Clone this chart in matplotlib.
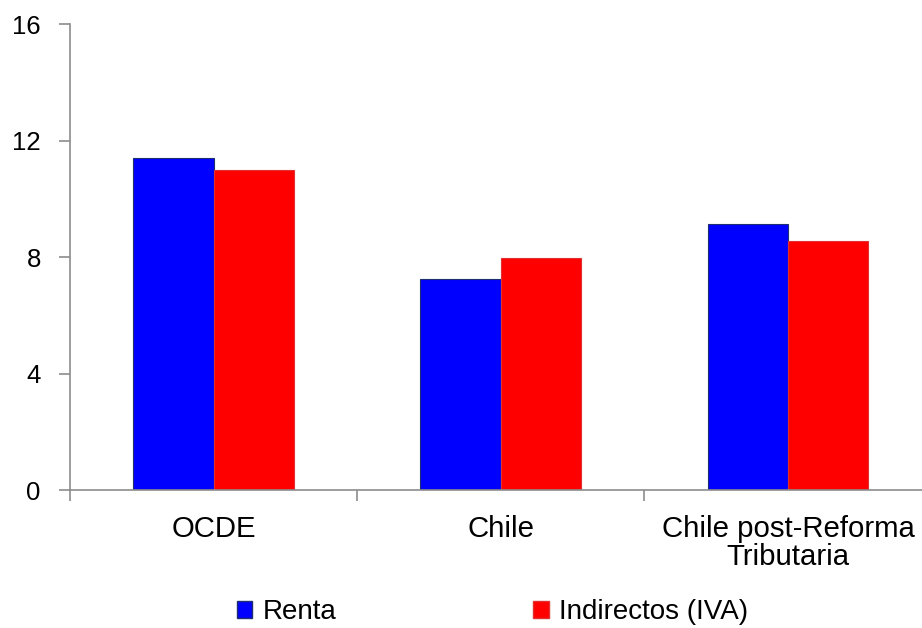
import numpy as np
import matplotlib.pyplot as plt
from matplotlib.patches import Patch

plt.rcParams['font.family'] = ['Liberation Sans', 'DejaVu Sans']

categorias = ['OCDE', 'Chile', 'Chile post-Reforma\nTributaria']
renta = [11.4, 7.23, 9.12]
indirectos = [11.0, 7.96, 8.55]
ticks_y = [0, 4, 8, 12, 16]

gris = '#8c8c8c'
fig = plt.figure(figsize=(9.22, 6.28), dpi=100)
ax = fig.add_axes([70 / 922, 1 - 490 / 628, 861.6 / 922, 466 / 628])

x = np.arange(len(categorias))
ancho = 0.28
ax.bar(x - ancho / 2, renta, ancho, color='#0000ff', edgecolor='#1f3070', linewidth=0.8)
ax.bar(x + ancho / 2, indirectos, ancho, color='#ff0000', edgecolor='#e03030', linewidth=0.8)

ax.set_xlim(-0.5, 2.5)
ax.set_ylim(0, 16)
ax.set_yticks(ticks_y)
ax.tick_params(axis='y', direction='out', length=8, width=1.2, color=gris,
               labelsize=18.5, pad=13)
# ticks del eje x en los limites de cada categoria
ax.set_xticks([-0.5, 0.5, 1.5, 2.5])
ax.set_xticklabels([])
ax.set_xticks(x, minor=True)
ax.set_xticklabels(categorias, minor=True, fontsize=21.2, linespacing=1.0)
ax.tick_params(axis='x', which='major', direction='out', length=8, width=1.2, color=gris)
ax.tick_params(axis='x', which='minor', length=0, pad=18)
for lado in ['top', 'right']:
    ax.spines[lado].set_visible(False)
for lado in ['left', 'bottom']:
    ax.spines[lado].set_color(gris)
    ax.spines[lado].set_linewidth(1.2)

handles = [Patch(facecolor='#0000ff', edgecolor='#1f3070', label='Renta'),
           Patch(facecolor='#ff0000', edgecolor='#e03030', label='Indirectos (IVA)')]
fig.legend(handles=handles, ncol=2, frameon=False, fontsize=20,
           loc='center left', bbox_to_anchor=(237 / 922, 1 - 612 / 628),
           borderpad=0, borderaxespad=0, handlelength=0.55, handleheight=0.55,
           handletextpad=0.36, columnspacing=7.1)

fig.savefig('out.png', dpi=100)
